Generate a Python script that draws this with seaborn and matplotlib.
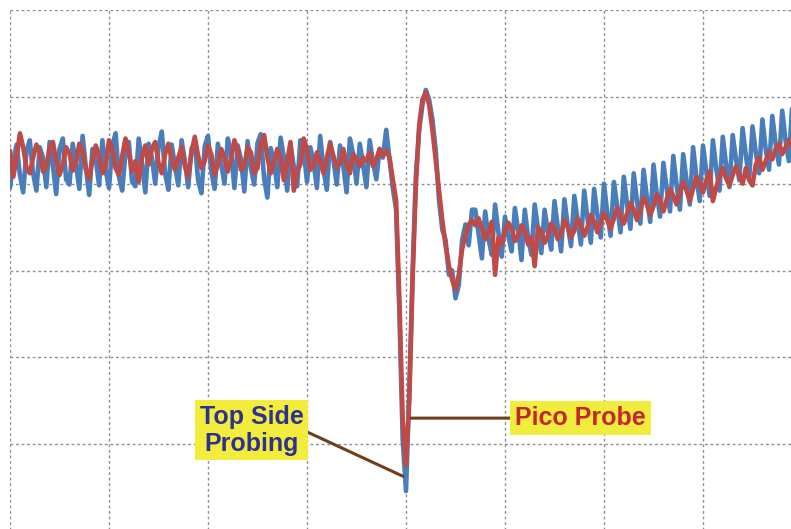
import numpy as np
import pandas as pd
import seaborn as sns
import matplotlib
matplotlib.use("Agg")
import matplotlib.pyplot as plt

# samples per grid division on the time axis
SAMPLES_PER_DIV = 30

# trace values, in grid divisions above the bottom of the screen
top_side = [
    # flat part before the event
    3.95, 4.25, 4.45, 4.10, 3.90, 4.38, 4.50, 4.12, 3.92, 4.42, 4.30, 3.96,
    4.48, 4.20, 3.88, 4.40, 4.52, 4.05, 3.99, 4.46, 4.22, 3.94, 4.55, 4.18,
    3.87, 4.40, 4.28, 3.98, 4.50, 4.15, 3.95, 4.44, 4.58, 4.08, 3.92, 4.36,
    4.48, 4.02, 3.97, 4.52, 4.24, 3.90, 4.46, 4.30, 4.00, 4.42, 4.60, 4.12,
    3.93, 4.45, 4.20, 3.98, 4.50, 4.26, 3.96, 4.40, 4.48, 4.04, 3.89, 4.43,
    4.55, 4.14, 3.94, 4.46, 4.22, 4.00, 4.52, 4.36, 3.95, 4.44, 4.28, 3.91,
    4.49, 4.18, 3.99, 4.47, 4.57, 4.06, 3.84, 4.41, 4.25, 3.96, 4.53, 4.30,
    3.92, 4.45, 4.20, 3.97, 4.50, 4.38, 4.02, 4.42, 4.24, 3.95, 4.55, 4.16,
    3.93, 4.48, 4.28, 3.99, 4.44, 4.20, 3.90, 4.52, 4.34, 4.00, 4.46, 4.22,
    3.96, 4.50, 4.25, 4.05, 4.40, 4.30, 4.62, 4.28,
    # the glitch
    3.95, 3.70, 2.50, 1.05, 0.46, 1.62, 3.00, 4.10, 4.62, 4.91, 5.08, 4.97,
    4.74, 4.39, 3.81, 3.47, 3.35, 2.95, 3.00, 2.68, 2.83, 3.35, 3.53, 3.29, 3.70,
    # slow ramp afterwards
    3.70, 3.42, 3.14, 3.68, 3.36, 3.18, 3.76, 3.44, 3.16,
    3.62, 3.40, 3.22, 3.72, 3.46, 3.12, 3.70, 3.38, 3.18,
    3.76, 3.48, 3.20, 3.70, 3.44, 3.24, 3.80, 3.50, 3.22,
    3.82, 3.52, 3.28, 3.86, 3.58, 3.30, 3.92, 3.60, 3.32,
    3.94, 3.64, 3.38, 4.00, 3.66, 3.40, 4.02, 3.74, 3.44,
    4.08, 3.76, 3.48, 4.12, 3.80, 3.54, 4.16, 3.84, 3.56,
    4.22, 3.88, 3.62, 4.24, 3.94, 3.68, 4.32, 3.98, 3.70,
    4.34, 4.04, 3.76, 4.42, 4.08, 3.80, 4.44, 4.14, 3.86,
    4.50, 4.18, 3.92, 4.54, 4.22, 3.96, 4.56, 4.28, 4.04,
    4.64, 4.32, 4.06, 4.66, 4.36, 4.12, 4.74, 4.40, 4.16,
    4.78, 4.46, 4.22, 4.84, 4.50, 4.26, 4.88,
]

pico = [
    4.38, 4.08, 4.30, 4.58, 4.42, 4.18, 4.12, 4.30, 4.45, 4.36, 4.14, 4.20,
    4.40, 4.48, 4.26, 4.10, 4.22, 4.42, 4.35, 4.15, 4.24, 4.46, 4.38, 4.16,
    4.06, 4.28, 4.44, 4.32, 4.12, 4.20, 4.50, 4.40, 4.18, 4.10, 4.32, 4.52,
    4.36, 4.14, 4.26, 4.02, 4.30, 4.44, 4.22, 4.40, 4.48, 4.24, 4.12, 4.34,
    4.46, 4.28, 4.16, 4.30, 4.42, 4.20, 4.08, 4.36, 4.54, 4.32, 4.18, 4.26,
    4.44, 4.34, 4.10, 4.22, 4.40, 4.30, 4.14, 4.28, 4.50, 4.38, 4.16, 4.20,
    4.42, 4.36, 4.12, 4.18, 4.46, 4.56, 4.30, 4.12, 4.24, 4.40, 4.28, 4.04,
    4.26, 4.48, 3.92, 4.14, 4.22, 4.52, 4.40, 4.16, 4.20, 4.36, 4.26, 4.12,
    4.30, 4.46, 4.32, 4.18, 4.24, 4.40, 4.22, 4.12, 4.34, 4.28, 4.20, 4.30,
    4.26, 4.36, 4.20, 4.28, 4.40, 4.32, 4.38, 4.30,
    4.05, 3.81, 2.66, 1.28, 0.76, 1.51, 2.89, 3.99, 4.68, 4.97, 5.05, 4.91,
    4.62, 4.27, 3.93, 3.58, 3.29, 3.06, 2.89, 2.78, 2.95, 3.24, 3.41, 3.53, 3.58,
    3.52, 3.60, 3.48, 3.36, 3.44, 3.56, 2.95, 3.38, 3.30, 3.46,
    3.55, 3.48, 3.34, 3.40, 3.52, 3.46, 3.30, 3.38, 3.05, 3.50,
    3.44, 3.32, 3.40, 3.54, 3.48, 3.36, 3.42, 3.58, 3.50, 3.38,
    3.46, 3.60, 3.52, 3.40, 3.50, 3.64, 3.56, 3.44, 3.54, 3.66,
    3.58, 3.48, 3.60, 3.72, 3.64, 3.54, 3.66, 3.78, 3.70, 3.58,
    3.70, 3.84, 3.76, 3.64, 3.74, 3.88, 3.80, 3.68, 3.82, 3.94,
    3.86, 3.76, 3.90, 4.02, 3.92, 3.80, 3.94, 4.08, 4.00, 3.90,
    4.04, 4.14, 3.80, 3.96, 4.08, 4.18, 4.06, 3.98, 4.10, 4.20,
    4.10, 4.00, 4.18, 4.04, 3.98, 4.22, 4.30, 4.16, 4.26, 4.36,
    4.28, 4.40, 4.46, 4.34, 4.42, 4.50, 4.44,
]

labels = ["Top Side\nProbing", "Pico Probe"]
colors = ["#4a7ebb", "#be4b48"]
text_colors = ["#2e3192", "#c1272d"]

df = pd.concat([
    pd.DataFrame({"t": np.arange(len(top_side)) / SAMPLES_PER_DIV,
                  "v": top_side, "probe": labels[0]}),
    pd.DataFrame({"t": np.arange(len(pico)) / SAMPLES_PER_DIV,
                  "v": pico, "probe": labels[1]}),
])

sns.set_style("white")
plt.rcParams['font.family'] = ['Liberation Sans', 'DejaVu Sans']

fig = plt.figure(figsize=(7.91, 5.29), dpi=100)
# the screen grid runs a little past the right and bottom edges of the image
ax = fig.add_axes([10 / 791, -2 / 529, 792 / 791, 521 / 529])

sns.lineplot(data=df, x="t", y="v", hue="probe", hue_order=labels,
             palette=dict(zip(labels, colors)), linewidth=3.3,
             estimator=None, sort=False, legend=False, ax=ax)

ax.set_xlim(0, 8)
ax.set_ylim(0, 6)
ax.set_xticks(range(9))
ax.set_yticks(range(7))
ax.tick_params(length=0, labelbottom=False, labelleft=False)
ax.grid(True, color="#8f8f8f", linestyle=(0, (2, 2)), linewidth=1)
ax.set_axisbelow(True)
for s in ax.spines.values():
    s.set_visible(False)
ax.set_xlabel("")
ax.set_ylabel("")

brown = "#6e3f1c"
yellow = "#f2ec3c"

# callouts
ax.annotate(labels[0], xy=(3.97, 0.63), xytext=(2.44, 1.16),
            ha="center", va="center", fontsize=18, fontweight="bold",
            color=text_colors[0], linespacing=1.15,
            bbox=dict(boxstyle="square,pad=0.18", fc=yellow, ec="none"),
            arrowprops=dict(arrowstyle="-", color=brown, lw=2.2,
                            relpos=(1, 0.5), shrinkA=0, shrinkB=0))
ax.annotate(labels[1], xy=(4.05, 1.30), xytext=(5.76, 1.30),
            ha="center", va="center", fontsize=18, fontweight="bold",
            color=text_colors[1],
            bbox=dict(boxstyle="square,pad=0.2", fc=yellow, ec="none"),
            arrowprops=dict(arrowstyle="-", color=brown, lw=2.2,
                            relpos=(0, 0.5), shrinkA=0, shrinkB=0))

plt.savefig("out.png", dpi=100)
